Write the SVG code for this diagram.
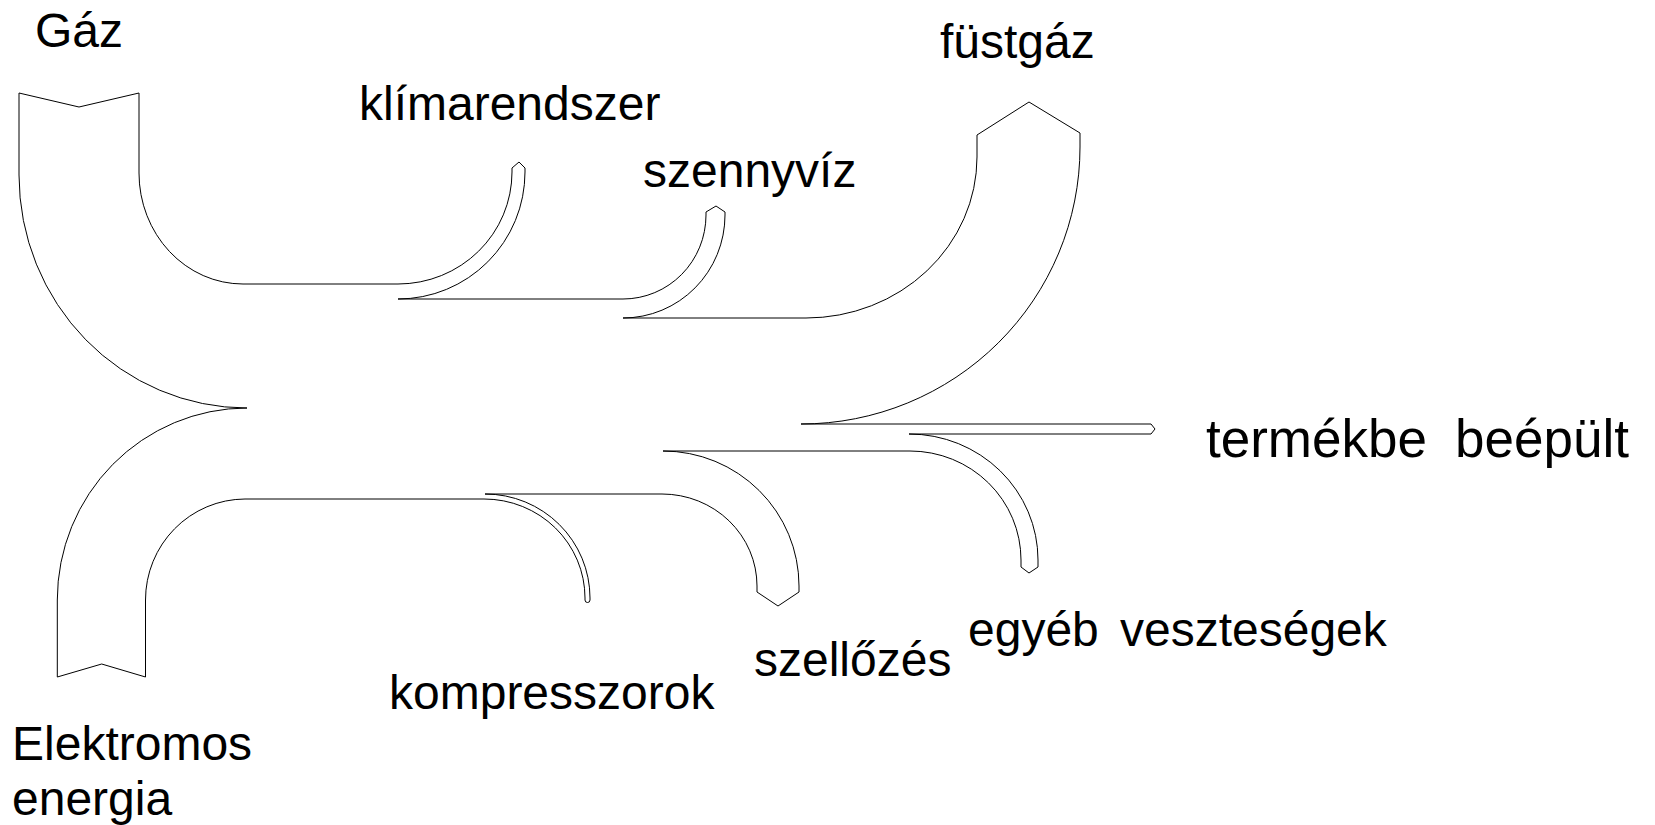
<svg xmlns="http://www.w3.org/2000/svg" width="1655" height="825" viewBox="0 0 1655 825">
<style>
.edge{fill:none;stroke:#000;stroke-width:1;stroke-linejoin:miter}
.lbl{font-family:"Liberation Sans",Arial,sans-serif;font-size:48px;fill:#000}
.big{font-size:53px}
</style>
<rect width="1655" height="825" fill="#fff"/>
<g id="connectors">
<path class="edge" d="M243,284 L398,284"/>
<path class="edge" d="M398,299 L623,299"/>
<path class="edge" d="M623,318 L806,318"/>
<path class="edge" d="M910,451 L663,451"/>
<path class="edge" d="M662,494 L485,494"/>
<path class="edge" d="M484,499 L245,499"/>
</g>
<g id="gaz">
<path class="edge" d="M243,284 A104,111 0 0 1 139,173 L139,93 L79,107 L19,93 L19,175 A228,233 0 0 0 247,408"/>
<text class="lbl" x="35" y="47">Gáz</text>
</g>
<g id="elektromos">
<path class="edge" d="M245,499 A100,101 0 0 0 145.5,600 L145.5,677 L101.7,664 L57.3,677 L57.3,600 A190,192 0 0 1 247,408"/>
<text class="lbl" x="12" y="760">Elektromos</text>
<text class="lbl" x="12" y="815">energia</text>
</g>
<g id="klima">
<path class="edge" d="M398,284 A114,112 0 0 0 512,172 L512,168 L519,162 L525,168 L525,172 A127,127 0 0 1 398,299"/>
<text class="lbl" x="359" y="120">klímarendszer</text>
</g>
<g id="szennyviz">
<path class="edge" d="M623,299 A83,84 0 0 0 706,215 L706,212 L716,206 L725,212 L725,215 A102,103 0 0 1 623,318"/>
<text class="lbl" x="643" y="187">szennyvíz</text>
</g>
<g id="fustgaz">
<path class="edge" d="M806,318 A171,161 0 0 0 977,157 L977,135 L1029,102 L1080,133 L1080,147 A279,277 0 0 1 801,424"/>
<text class="lbl" x="940" y="58">füstgáz</text>
</g>
<g id="termekbe">
<path class="edge" d="M801,424 L1151,424 L1155,429 L1151,434 L909,434"/>
<text class="lbl big" y="457"><tspan x="1206">termékbe</tspan><tspan x="1455">beépült</tspan></text>
</g>
<g id="egyeb">
<path class="edge" d="M909,434 A129,126 0 0 1 1038,560 L1038,567 L1029,573 L1021,567 L1021,560 A111,109 0 0 0 910,451"/>
<text class="lbl" y="646"><tspan x="968">egyéb</tspan><tspan x="1120">veszteségek</tspan></text>
</g>
<g id="szellozes">
<path class="edge" d="M663,451 A136,135 0 0 1 799,586 L799,592 L778,606 L757,592 L757,586 A95,92 0 0 0 662,494"/>
<text class="lbl" x="754" y="676">szellőzés</text>
</g>
<g id="kompresszorok">
<path class="edge" d="M485,494 A105,104 0 0 1 590,598 L590,600 A2.5,2.5 0 0 1 585,600 L585,598 A101,99 0 0 0 484,499"/>
<text class="lbl" x="389" y="709">kompresszorok</text>
</g>
</svg>
